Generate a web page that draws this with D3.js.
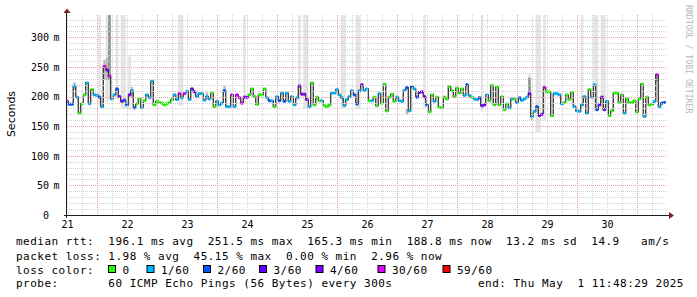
<!DOCTYPE html>
<html>
<head>
<meta charset="utf-8">
<script src="https://cdn.jsdelivr.net/npm/d3@7"></script>
<style>
  body { margin: 0; background: #fff; }
  svg { display: block; }
  text { font-family: "DejaVu Sans Mono", monospace; fill: #000; }
</style>
</head>
<body>
<svg id="chart" width="697" height="297"></svg>
<script>
// hourly median rtt (ms), 240 steps ending Thu May 1 11:48:29 2025
const medianMs = [
  192, 187, 187, 218, 199, 172, 188, 203, 223, 188, 212, 203, 202, 199, 183, 251, 245, 235, 196, 203,
  213, 200, 192, 194, 186, 203, 210, 181, 188, 196, 181, 193, 203, 198, 226, 186, 192, 190, 189, 186,
  188, 190, 195, 203, 195, 205, 198, 205, 209, 195, 213, 208, 200, 205, 205, 194, 200, 196, 206, 183,
  192, 186, 189, 210, 183, 183, 203, 183, 203, 198, 189, 199, 199, 203, 213, 200, 187, 203, 203, 213,
  198, 193, 193, 183, 200, 193, 206, 192, 206, 192, 200, 186, 198, 218, 204, 204, 195, 183, 223, 186,
  199, 193, 193, 184.5, 183, 186, 206, 206, 212, 203, 198, 185, 195, 200, 210, 203, 187.5, 210, 220, 210,
  213, 193, 193, 199, 184.5, 205, 189, 221, 176, 199, 204, 192, 199, 193, 192, 210.5, 215, 176, 217, 213,
  199, 207, 208, 200, 186, 174, 203, 192, 199, 182, 181, 199, 196, 217, 210, 200, 214.5, 206, 213, 202,
  220, 202, 199, 196, 195, 198, 184.5, 186, 203, 193, 219, 186, 216, 186, 200, 178, 187.5, 181, 196, 196,
  190, 198, 193.6, 196, 199, 205, 166.5, 175, 183, 168, 170, 215.5, 208, 208, 167.7, 205, 205, 203, 187.5, 190,
  203, 195, 207, 183, 176, 175, 186, 200, 172, 212, 199, 220, 178, 186, 199, 178, 192, 168, 176, 206,
  206, 190, 203, 172, 196, 190, 190, 193, 174, 196, 221, 166.5, 199, 186, 187, 192, 237, 183, 189, 190
];

// lost pings out of 60 for each step
const lossCount = [
  3, 2, 2, 1, 1, 0, 0, 0, 1, 1, 0, 1, 1, 2, 1, 30, 4, 30, 1, 1,
  2, 4, 4, 2, 2, 4, 1, 2, 0, 0, 1, 0, 1, 1, 1, 0, 0, 0, 0, 0,
  0, 0, 0, 1, 1, 30, 1, 30, 1, 1, 3, 4, 1, 1, 1, 1, 1, 1, 0, 0,
  1, 1, 1, 2, 1, 1, 30, 1, 30, 30, 30, 4, 4, 0, 0, 0, 0, 0, 0, 0,
  1, 2, 1, 0, 1, 2, 1, 2, 1, 1, 1, 1, 1, 4, 4, 4, 4, 1, 0, 0,
  0, 0, 1, 0, 0, 0, 1, 1, 1, 1, 1, 1, 1, 1, 1, 2, 2, 1, 4, 1,
  1, 0, 1, 0, 0, 1, 0, 0, 0, 0, 0, 0, 1, 1, 1, 1, 2, 1, 2, 1,
  2, 4, 4, 4, 2, 0, 0, 1, 0, 0, 0, 0, 0, 0, 0, 0, 0, 0, 0, 1,
  2, 1, 0, 1, 1, 2, 4, 3, 1, 0, 0, 0, 0, 0, 0, 0, 0, 1, 1, 0,
  1, 2, 1, 1, 1, 4, 1, 1, 2, 4, 4, 30, 0, 0, 0, 1, 1, 1, 1, 0,
  0, 0, 0, 1, 1, 1, 1, 1, 1, 0, 1, 1, 2, 4, 4, 4, 1, 0, 0, 0,
  0, 0, 0, 1, 0, 0, 0, 0, 0, 0, 0, 1, 0, 0, 0, 1, 30, 1, 2, 2
];

// smoke: [step, lowest ping ms, highest ping ms]
const smokeOuter = [
  [13, 185, 340], [16, 190, 340], [17, 195, 340], [20, 195, 340], [22, 180, 340], [23, 180, 340],
  [25, 178, 270], [45, 185, 340], [46, 185, 340], [71, 190, 340], [93, 192, 340], [95, 180, 340],
  [96, 180, 340], [110, 180, 340], [111, 180, 340], [116, 180, 340], [117, 180, 340], [143, 180, 340],
  [166, 175, 340], [185, 200, 240], [188, 140, 340], [189, 140, 340], [191, 160, 340], [206, 180, 340],
  [211, 175, 340], [212, 175, 340], [214, 175, 340], [215, 175, 340]
];
const smokeMid = [
  [3, 212, 224], [15, 228, 262], [16, 228, 265], [26, 198, 216], [56, 196, 207], [63, 208, 218],
  [136, 170, 180], [186, 160, 172], [236, 225, 240]
];
const smokeCore = [[17, 228, 340], [185, 207, 232]];

const yTicks = [0, 50, 100, 150, 200, 250, 300];
const dayLabels = ["21", "22", "23", "24", "25", "26", "27", "28", "29", "30"];

const lossLevels = [0, 1, 2, 3, 4, 30, 59];
const lossColors = ["#26ff00", "#00b8ff", "#0059ff", "#5e00ff", "#7e00ff", "#dd00ff", "#ff0000"];
const lossNames = ["0", "1/60", "2/60", "3/60", "4/60", "30/60", "59/60"];

const rttLine = "median rtt:  196.1 ms avg  251.5 ms max  165.3 ms min  188.8 ms now  13.2 ms sd  14.9   am/s";
const lossLine = "packet loss: 1.98 % avg  45.15 % max  0.00 % min  2.96 % now";
const probeLine = "probe:       60 ICMP Echo Pings (56 Bytes) every 300s";
const endLine = "end: Thu May  1 11:48:29 2025";

const end = new Date(2025, 4, 1, 11, 48, 29);
const start = d3.timeHour.offset(end, -240);
const stepTime = k => new Date(+start + k * 3600e3);

const svg = d3.select("#chart");
const plot = {left: 67, right: 667, top: 15, bottom: 215};

const x = d3.scaleTime().domain([start, end]).range([plot.left, plot.right]);
const y = d3.scaleLinear().domain([0, 337.8]).range([plot.bottom, plot.top]);

svg.append("defs").append("clipPath").attr("id", "clip")
  .append("rect")
  .attr("x", plot.left).attr("y", plot.top)
  .attr("width", plot.right - plot.left).attr("height", plot.bottom - plot.top);

const g = svg.append("g").attr("clip-path", "url(#clip)");

// smoke
function drawSmoke(list, fill) {
  g.selectAll(null).data(list).enter().append("rect")
    .attr("x", d => x(stepTime(d[0] - 0.5)))
    .attr("width", d => x(stepTime(d[0] + 0.5)) - x(stepTime(d[0] - 0.5)))
    .attr("y", d => y(d[2]))
    .attr("height", d => y(d[1]) - y(d[2]))
    .attr("fill", fill);
}
drawSmoke(smokeOuter, "#e3e3e3");
drawSmoke(smokeMid, "#b9b9b9");
drawSmoke(smokeCore, "#8c8c8c");

// black median step line
const pts = medianMs.map((m, i) => [stepTime(i - 0.5), m]);
pts.push([stepTime(medianMs.length - 0.5), medianMs[medianMs.length - 1]]);
g.append("path")
  .datum(pts)
  .attr("fill", "none")
  .attr("stroke", "#202020")
  .attr("stroke-width", 1.2)
  .attr("d", d3.line().x(d => x(d[0])).y(d => y(d[1])).curve(d3.curveStepAfter));

// median bands coloured by loss, on top of the black line
g.selectAll(null).data(medianMs).enter().append("rect")
  .attr("x", (d, i) => x(stepTime(i - 0.5)))
  .attr("width", (d, i) => x(stepTime(i + 0.5)) - x(stepTime(i - 0.5)))
  .attr("y", d => y(d) - 1.5)
  .attr("height", 3)
  .attr("fill", (d, i) => lossColors[lossLevels.indexOf(lossCount[i])]);

// grid, drawn over the data like rrdtool does
const grid = svg.append("g");
const px = v => Math.round(v) + 0.5;
const minorY = d3.range(10, 338, 10).filter(v => v % 50 !== 0);
grid.selectAll(null).data(minorY).enter().append("line")
  .attr("x1", plot.left).attr("x2", plot.right)
  .attr("y1", d => px(y(d))).attr("y2", d => px(y(d)))
  .attr("stroke", "#d2d2d2").attr("stroke-dasharray", "1,1");
const minorX = d3.timeHour.every(6).range(start, end).filter(d => d.getHours() !== 0);
grid.selectAll(null).data(minorX).enter().append("line")
  .attr("x1", d => px(x(d))).attr("x2", d => px(x(d)))
  .attr("y1", plot.top).attr("y2", plot.bottom)
  .attr("stroke", "#d2d2d2").attr("stroke-dasharray", "1,1");
grid.selectAll(null).data(yTicks.slice(1)).enter().append("line")
  .attr("x1", plot.left).attr("x2", plot.right)
  .attr("y1", d => px(y(d))).attr("y2", d => px(y(d)))
  .attr("stroke", "#eba3a3").attr("stroke-dasharray", "1,1");
grid.selectAll(null).data(d3.timeDay.range(start, end)).enter().append("line")
  .attr("x1", d => px(x(d))).attr("x2", d => px(x(d)))
  .attr("y1", plot.top).attr("y2", plot.bottom)
  .attr("stroke", "#eba3a3").attr("stroke-dasharray", "1,1");

// axes with arrows
svg.append("line").attr("x1", 66.5).attr("x2", 66.5).attr("y1", 218).attr("y2", 11)
  .attr("stroke", "#1f1f1f");
svg.append("line").attr("x1", 64).attr("x2", 670).attr("y1", 215.5).attr("y2", 215.5)
  .attr("stroke", "#1f1f1f");
svg.append("path").attr("d", "M67,8.5 L63.5,13 L70.5,13 Z").attr("fill", "#801f1f");
svg.append("path").attr("d", "M674,215.5 L669,212 L669,219 Z").attr("fill", "#801f1f");

// y labels
const yl = svg.append("g").style("font-size", "10px");
yl.selectAll(null).data(yTicks).enter().append("text")
  .attr("x", 49).attr("y", d => y(d) + 3.8)
  .attr("text-anchor", "end")
  .text(d => d);
yl.selectAll(null).data(yTicks.slice(1)).enter().append("text")
  .attr("x", 53.5).attr("y", d => y(d) + 3.8)
  .text("m");

// x labels at noon of each day
const noons = d3.timeDay.range(start, end).map(d => d3.timeHour.offset(d, -12));
svg.append("g").style("font-size", "10px")
  .selectAll(null).data(noons).enter().append("text")
  .attr("x", d => x(d)).attr("y", 227.5)
  .attr("text-anchor", "middle")
  .text((d, i) => dayLabels[i]);

// axis title
svg.append("text")
  .attr("transform", "translate(15,114) rotate(-90)")
  .attr("text-anchor", "middle")
  .style("font-family", "'DejaVu Sans', sans-serif")
  .style("font-size", "11px")
  .text("Seconds");

// watermark
svg.append("text")
  .attr("transform", "translate(685.5,5) rotate(90)")
  .style("font-size", "8.2px")
  .style("fill", "#b8b8b8")
  .text("RRDTOOL / TOBI OETIKER");

// legend (spaces kept with no-break spaces)
const keep = s => s.replace(/ /g, "\u00a0");
const leg = svg.append("g")
  .style("font-size", "11px")
  .style("letter-spacing", "0.48px");
leg.append("text").attr("x", 16).attr("y", 245).text(keep(rttLine));
leg.append("text").attr("x", 16).attr("y", 259.5).text(keep(lossLine));
leg.append("text").attr("x", 16).attr("y", 273.5).text("loss color:");
leg.append("text").attr("x", 16).attr("y", 287).text(keep(probeLine));
leg.append("text").attr("x", 478).attr("y", 287).text(keep(endLine));

const boxX = [108.5, 147, 203.5, 259.5, 316, 378, 443];
const sw = leg.selectAll(null).data(lossNames).enter().append("g");
sw.append("rect")
  .attr("x", (d, i) => boxX[i]).attr("y", 265.5)
  .attr("width", 7).attr("height", 7)
  .attr("fill", (d, i) => lossColors[i])
  .attr("stroke", "#000").attr("stroke-width", 1);
sw.append("text")
  .attr("x", (d, i) => boxX[i] + 14).attr("y", 273.5)
  .text(d => d);
</script>
</body>
</html>
